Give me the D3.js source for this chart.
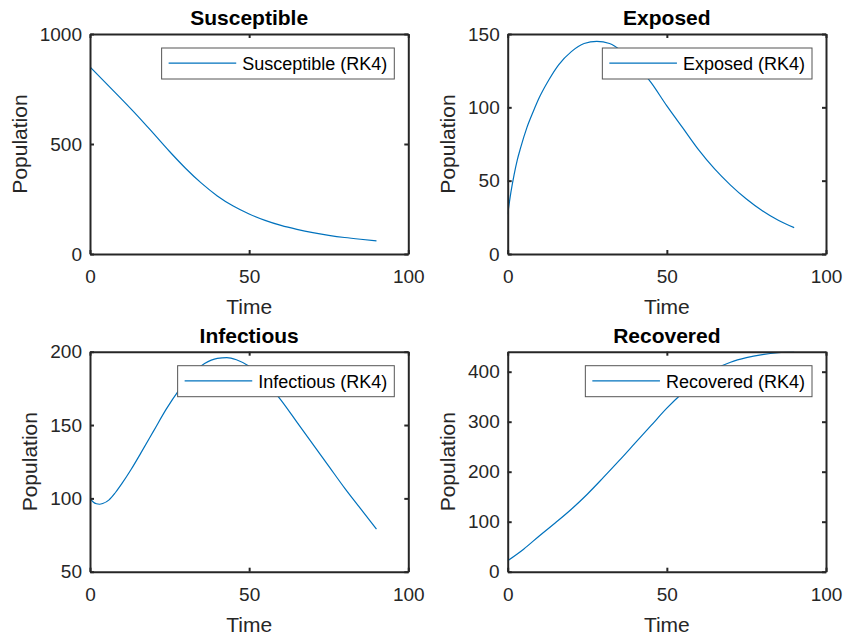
<!DOCTYPE html>
<meta charset="utf-8">
<style>
    body { margin: 0; background: #fff; }
    svg text { font-family: "Liberation Sans", Arial, sans-serif; fill: #262626; }
</style>
<body>
<svg width="843" height="636"></svg>
<script src="https://cdn.jsdelivr.net/npm/d3@7"></script>
<script>
    // values
    var sTime = [0, 5, 10, 15, 20, 25, 30, 35, 40, 45, 50, 55, 60, 65, 70, 75, 80, 85, 90];
    var susceptible = [850, 777, 703, 627, 547, 466, 390, 322, 264, 218, 182, 153, 130, 112, 97, 85, 75, 67, 60];

    var eTime = [0, 1, 2, 3, 4, 6, 8, 10, 13, 16, 20, 24, 28, 32, 36, 40, 45, 50, 55, 60, 65, 70, 75, 80, 85, 90];
    var exposed = [27, 42, 54, 64, 72, 86, 97, 107, 119, 129, 138, 143.5, 145, 143.5, 138, 130, 117, 101, 86, 71, 58, 47, 37.5, 29.5, 23, 18];

    var iTime = [0, 1, 2, 3, 4, 6, 8, 10, 13, 16, 20, 24, 28, 32, 36, 40, 43, 46, 50, 55, 60, 65, 70, 75, 80, 85, 90];
    var infectious = [100, 97.5, 96.3, 96, 96.5, 99, 104, 110, 120, 131, 146, 161, 174, 185, 192, 195.5, 196, 194.5, 190, 180, 167, 152, 137, 122, 107, 93, 79];

    var rTime = [0, 5, 10, 15, 20, 25, 30, 35, 40, 45, 50, 55, 60, 65, 70, 75, 80, 85, 90];
    var recovered = [22, 45, 72, 98, 125, 155, 188, 222, 257, 292, 327, 358, 385, 405, 419, 428, 434, 438, 440];

    var xTicks = [0, 50, 100];
    var titles = ["Susceptible", "Exposed", "Infectious", "Recovered"];
    var yTicksS = [0, 500, 1000];
    var yTicksE = [0, 50, 100, 150];
    var yTicksI = [50, 100, 150, 200];
    var yTicksR = [0, 100, 200, 300, 400];

    var svg = d3.select("svg");
    var lineColor = "#0072bd";
    var axisColor = "#262626";

    var panels = [
        { title: titles[0], t: sTime, v: susceptible, yDomain: [0, 1000], yTicks: yTicksS, left: 90, top: 34 },
        { title: titles[1], t: eTime, v: exposed, yDomain: [0, 150], yTicks: yTicksE, left: 507.7, top: 34 },
        { title: titles[2], t: iTime, v: infectious, yDomain: [50, 200], yTicks: yTicksI, left: 90, top: 351.7 },
        { title: titles[3], t: rTime, v: recovered, yDomain: [0, 440], yTicks: yTicksR, left: 507.7, top: 351.7 }
    ];

    var pw = 318.3, ph = 220;
    var fmt = d3.format("d");

    panels.forEach(function(p, idx) {
        var g = svg.append("g").attr("transform", "translate(" + p.left + "," + p.top + ")");

        var x = d3.scaleLinear().domain([0, 100]).range([0, pw]);
        var y = d3.scaleLinear().domain(p.yDomain).range([ph, 0]);

        g.append("clipPath").attr("id", "clip" + idx)
            .append("rect").attr("width", pw).attr("height", ph);

        var line = d3.line()
            .x(function(d) { return x(d[0]); })
            .y(function(d) { return y(d[1]); })
            .curve(d3.curveMonotoneX);

        g.append("path")
            .datum(p.t.map(function(t, i) { return [t, p.v[i]]; }))
            .attr("clip-path", "url(#clip" + idx + ")")
            .attr("d", line)
            .style("fill", "none")
            .style("stroke", lineColor)
            .style("stroke-width", 1.2);

        // axes: ticks inside, mirrored on top and right
        var xb = g.append("g").attr("transform", "translate(0," + ph + ")")
            .call(d3.axisBottom(x).tickValues(xTicks).tickFormat(fmt).tickSizeInner(-4).tickSizeOuter(0).tickPadding(16));
        var xt = g.append("g")
            .call(d3.axisTop(x).tickValues(xTicks).tickSizeInner(-4).tickSizeOuter(0).tickFormat(""));
        var yl = g.append("g")
            .call(d3.axisLeft(y).tickValues(p.yTicks).tickFormat(fmt).tickSizeInner(-4).tickSizeOuter(0).tickPadding(8));
        var yr = g.append("g").attr("transform", "translate(" + pw + ",0)")
            .call(d3.axisRight(y).tickValues(p.yTicks).tickSizeInner(-4).tickSizeOuter(0).tickFormat(""));

        [xb, xt, yl, yr].forEach(function(a) {
            a.select(".domain").attr("stroke", axisColor).attr("stroke-width", 2);
            a.selectAll(".tick line").attr("stroke", axisColor).attr("stroke-width", 2);
            a.selectAll("text").attr("font-size", 19).attr("fill", axisColor)
                .attr("font-family", "Liberation Sans, Arial, sans-serif");
        });

        // widest y tick label to place the y label
        var maxW = 0;
        yl.selectAll("text").each(function() {
            maxW = Math.max(maxW, this.getComputedTextLength());
        });

        g.append("text")
            .attr("x", pw / 2)
            .attr("y", -9)
            .attr("text-anchor", "middle")
            .attr("font-size", 21)
            .attr("font-weight", "bold")
            .style("fill", "#000")
            .text(p.title);

        g.append("text")
            .attr("x", pw / 2)
            .attr("y", ph + 60)
            .attr("text-anchor", "middle")
            .attr("font-size", 21)
            .text("Time");

        g.append("text")
            .attr("transform", "translate(" + (-8 - maxW - 13) + "," + (ph / 2) + ") rotate(-90)")
            .attr("text-anchor", "middle")
            .attr("font-size", 21)
            .text("Population");

        // legend
        var leg = g.append("g");
        var box = leg.append("rect")
            .style("fill", "#fff")
            .style("stroke", "#555")
            .style("stroke-width", 1);
        var lt = leg.append("text")
            .attr("font-size", 18)
            .style("fill", "#000")
            .text(p.title + " (RK4)");
        var tw = lt.node().getComputedTextLength();
        var bw = 7 + 67.6 + 6 + tw + 7, bh = 31;
        var bx = pw - 14 - bw, by = 14;
        box.attr("x", bx).attr("y", by).attr("width", bw).attr("height", bh);
        leg.append("line")
            .attr("x1", bx + 7).attr("x2", bx + 7 + 67.6)
            .attr("y1", by + bh / 2 - 0.3).attr("y2", by + bh / 2 - 0.3)
            .style("stroke", lineColor).style("stroke-width", 1.2);
        lt.attr("x", bx + 7 + 67.6 + 6).attr("y", by + bh / 2 + 6.5);
    });
</script>
</body>
